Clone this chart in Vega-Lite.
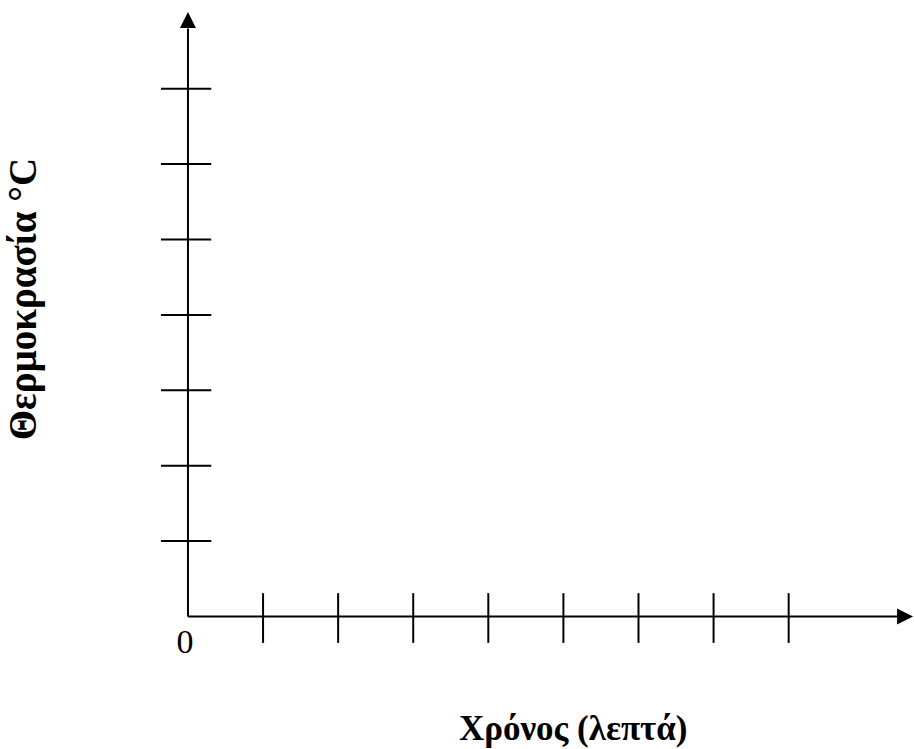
{
  "$schema": "https://vega.github.io/schema/vega-lite/v6.json",
  "width": 914,
  "height": 749,
  "padding": 0,
  "autosize": {"type": "fit", "contains": "padding"},
  "background": "white",
  "config": {"view": {"stroke": null}},
  "datasets": {
    "axes": [
      {"x": 0, "y": 0, "x2": 9.46, "y2": 0},
      {"x": 0, "y": 0, "x2": 0, "y2": 7.8}
    ],
    "xticks": [
      {"x": 1, "y": 0.31, "y2": -0.35},
      {"x": 2, "y": 0.31, "y2": -0.35},
      {"x": 3, "y": 0.31, "y2": -0.35},
      {"x": 4, "y": 0.31, "y2": -0.35},
      {"x": 5, "y": 0.31, "y2": -0.35},
      {"x": 6, "y": 0.31, "y2": -0.35},
      {"x": 7, "y": 0.31, "y2": -0.35},
      {"x": 8, "y": 0.31, "y2": -0.35}
    ],
    "yticks": [
      {"y": 1, "x": -0.36, "x2": 0.31},
      {"y": 2, "x": -0.36, "x2": 0.31},
      {"y": 3, "x": -0.36, "x2": 0.31},
      {"y": 4, "x": -0.36, "x2": 0.31},
      {"y": 5, "x": -0.36, "x2": 0.31},
      {"y": 6, "x": -0.36, "x2": 0.31},
      {"y": 7, "x": -0.36, "x2": 0.31}
    ],
    "uparrow": [{"x": 0, "y": 7.91}],
    "rightarrow": [{"x": 9.55, "y": 0}],
    "origin": [{"x": -0.04, "y": -0.484, "label": "0"}],
    "xtitle": [{"x": 5.13, "y": -1.638, "label": "Χρόνος (λεπτά)"}],
    "ytitle": [{"x": -2.02, "y": 4.21, "label": "Θερμοκρασία °C"}]
  },
  "encoding": {
    "x": {"field": "x", "type": "quantitative", "axis": null, "scale": {"domain": [-2.5033, 9.6026], "nice": false, "zero": false}},
    "y": {"field": "y", "type": "quantitative", "axis": null, "scale": {"domain": [-1.7573, 8.1764], "nice": false, "zero": false}}
  },
  "layer": [
    {
      "data": {"name": "axes"},
      "mark": {"type": "rule", "color": "black", "strokeWidth": 2},
      "encoding": {"x2": {"field": "x2"}, "y2": {"field": "y2"}}
    },
    {
      "data": {"name": "xticks"},
      "mark": {"type": "rule", "color": "black", "strokeWidth": 2},
      "encoding": {"y2": {"field": "y2"}}
    },
    {
      "data": {"name": "yticks"},
      "mark": {"type": "rule", "color": "black", "strokeWidth": 2},
      "encoding": {"x2": {"field": "x2"}}
    },
    {
      "data": {"name": "uparrow"},
      "mark": {"type": "point", "shape": "M0,-1L1,1L-1,1Z", "filled": true, "color": "black", "size": 256, "opacity": 1}
    },
    {
      "data": {"name": "rightarrow"},
      "mark": {"type": "point", "shape": "M1,0L-1,-1L-1,1Z", "filled": true, "color": "black", "size": 256, "opacity": 1}
    },
    {
      "data": {"name": "origin"},
      "mark": {"type": "text", "font": "Liberation Serif", "fontSize": 34, "align": "center", "baseline": "alphabetic", "color": "black"},
      "encoding": {"text": {"field": "label"}}
    },
    {
      "data": {"name": "xtitle"},
      "mark": {"type": "text", "font": "Liberation Serif", "fontSize": 35, "fontWeight": "bold", "align": "center", "baseline": "alphabetic", "color": "black"},
      "encoding": {"text": {"field": "label"}}
    },
    {
      "data": {"name": "ytitle"},
      "mark": {"type": "text", "font": "Liberation Serif", "fontSize": 39, "fontWeight": "bold", "align": "center", "baseline": "alphabetic", "angle": 270, "color": "black"},
      "encoding": {"text": {"field": "label"}}
    }
  ]
}
